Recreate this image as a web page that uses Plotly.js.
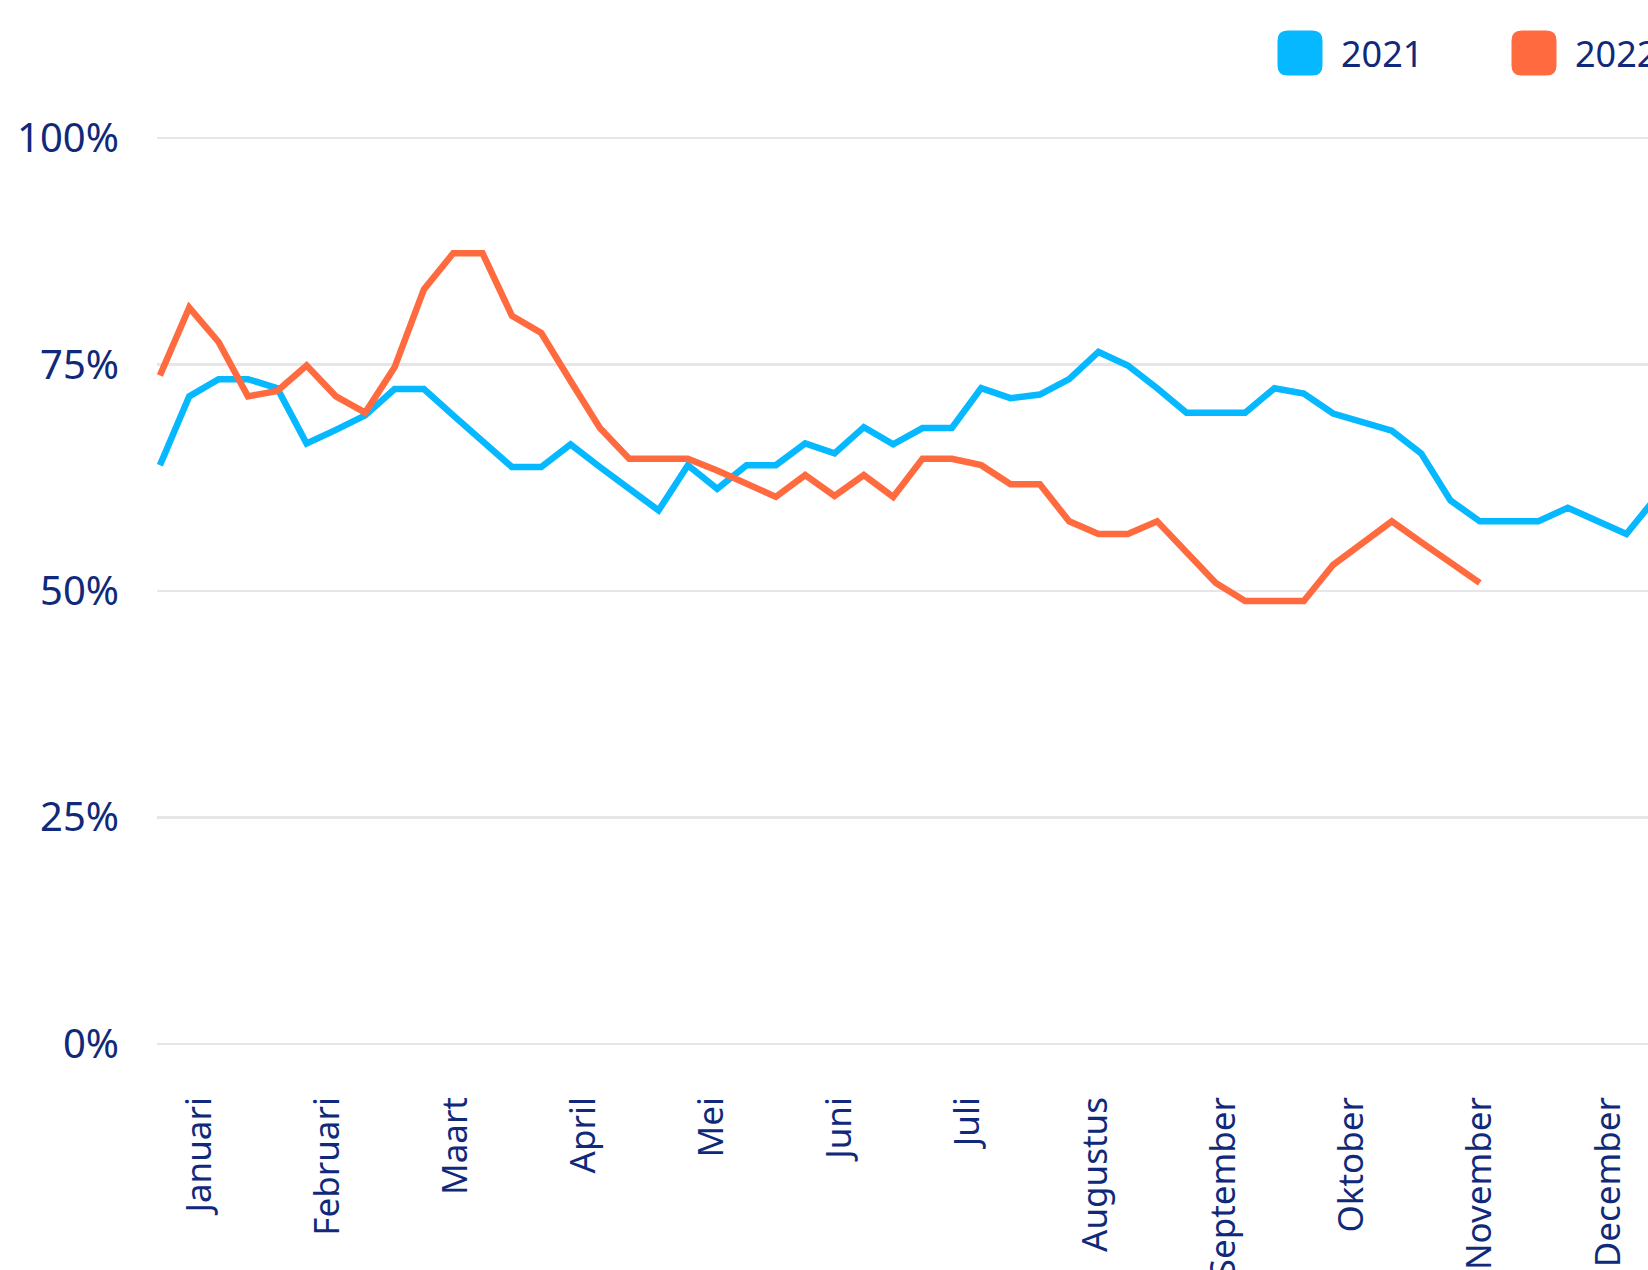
<!DOCTYPE html>
<html>
<head>
<meta charset="utf-8">
<script src="https://cdn.plot.ly/plotly-3.0.1.min.js"></script>
<style>
  html, body { margin: 0; padding: 0; overflow: hidden; background: #ffffff; }
  #chart { width: 1720px; height: 1270px; }
</style>
</head>
<body>
<div id="chart"></div>
<script>
// ---- Data (weekly share, %) ----
const seriesNames = ["2021", "2022"];
const values2021 = [
  63.9, 71.5, 73.4, 73.4, 72.4, 66.3, 67.8, 69.4, 72.3, 72.3,
  69.4, 66.6, 63.7, 63.7, 66.2, 63.7, 61.3, 58.9, 63.9, 61.3,
  63.9, 63.9, 66.3, 65.2, 68.1, 66.2, 68.0, 68.0, 72.4, 71.3,
  71.7, 73.4, 76.4, 74.9, 72.4, 69.7, 69.7, 69.7, 72.4, 71.8,
  69.6, 68.6, 67.7, 65.2, 60.0, 57.7, 57.7, 57.7, 59.2, 57.7,
  56.3, 60.3
];
const values2022 = [
  73.8, 81.3, 77.5, 71.5, 72.1, 74.9, 71.5, 69.7, 74.7, 83.3,
  87.3, 87.3, 80.4, 78.5, 73.2, 68.0, 64.6, 64.6, 64.6, 63.3,
  61.8, 60.4, 62.8, 60.5, 62.8, 60.4, 64.6, 64.6, 63.9, 61.8,
  61.8, 57.7, 56.3, 56.3, 57.7, 54.4, 50.9, 48.9, 48.9, 48.9,
  52.9, 55.3, 57.7, 55.4, 53.1, 50.9
];
const monthLabels = ["Januari", "Februari", "Maart", "April", "Mei", "Juni",
  "Juli", "Augustus", "September", "Oktober", "November", "December"];
const yTickValues = [0, 25, 50, 75, 100];

// ---- Styling ----
const colors = ["#05B8FF", "#FF6A3F"];
const textColor = "#10297A";
const fontFamily = "'Noto Sans', 'Open Sans', sans-serif";

const W = 1720, H = 1270;
const margin = { l: 157, r: 30, t: 102, b: 208 };
const plotW = W - margin.l - margin.r;
const plotH = H - margin.t - margin.b;

const weeks2021 = values2021.map((_, i) => i);
const weeks2022 = values2022.map((_, i) => i);
const weeksPerMonth = 4.366;
const monthTickVals = monthLabels.map((_, m) => 1.35 + m * weeksPerMonth);

const traces = [
  { x: weeks2021, y: values2021, name: seriesNames[0] },
  { x: weeks2022, y: values2022, name: seriesNames[1] }
].map((t, k) => Object.assign(t, {
  type: "scatter",
  mode: "lines",
  line: { color: colors[k], width: 6.5 },
  hoverinfo: "skip",
  showlegend: false
}));

// Custom legend (rounded swatches + text), positioned in pixels
const px2paperX = px => (px - margin.l) / plotW;
const px2paperY = py => (H - margin.b - py) / plotH;
const legendItems = [
  { cx: 1300, cy: 53, tx: 1339 },
  { cx: 1534, cy: 53, tx: 1573 }
];
const r = 10, s = 22.5;
const roundSq = `M ${-s},${-s + r} Q ${-s},${-s} ${-s + r},${-s} L ${s - r},${-s} Q ${s},${-s} ${s},${-s + r} ` +
  `L ${s},${s - r} Q ${s},${s} ${s - r},${s} L ${-s + r},${s} Q ${-s},${s} ${-s},${s - r} Z`;

const shapes = legendItems.map((it, k) => ({
  type: "path",
  xref: "paper", yref: "paper",
  xsizemode: "pixel", ysizemode: "pixel",
  xanchor: px2paperX(it.cx), yanchor: px2paperY(it.cy),
  path: roundSq,
  fillcolor: colors[k],
  line: { width: 0 },
  layer: "above"
}));
const annotations = legendItems.map((it, k) => ({
  xref: "paper", yref: "paper",
  x: px2paperX(it.tx), y: px2paperY(it.cy),
  xanchor: "left", yanchor: "middle",
  text: seriesNames[k],
  showarrow: false,
  font: { family: fontFamily, size: 36, color: textColor }
}));

const layout = {
  width: W, height: H,
  margin: margin,
  paper_bgcolor: "#ffffff",
  plot_bgcolor: "#ffffff",
  font: { family: fontFamily, color: textColor },
  showlegend: false,
  xaxis: {
    range: [-0.1, -0.1 + plotW / 29.33],
    tickmode: "array",
    tickvals: monthTickVals,
    ticktext: monthLabels,
    tickangle: -90,
    tickfont: { family: fontFamily, size: 35, color: textColor },
    showgrid: false,
    zeroline: false,
    showline: false,
    ticks: "",
    ticklabelstandoff: 27
  },
  yaxis: {
    range: [-2, 104],
    tickmode: "array",
    tickvals: yTickValues,
    ticktext: yTickValues.map(v => v + "%"),
    tickfont: { family: fontFamily, size: 40, color: textColor },
    showgrid: true,
    gridcolor: "#E6E6E6",
    gridwidth: 2.5,
    zeroline: false,
    showline: false,
    ticks: "",
    ticklabelstandoff: 37
  },
  shapes: shapes,
  annotations: annotations
};

Plotly.newPlot("chart", traces, layout, { staticPlot: true, displayModeBar: false });
</script>
</body>
</html>
